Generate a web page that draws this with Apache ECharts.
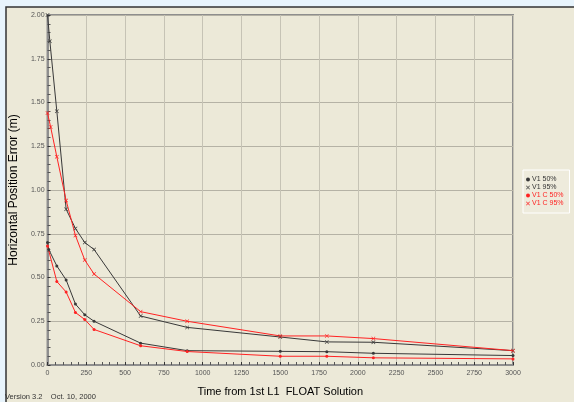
<!DOCTYPE html>
<html><head><meta charset="utf-8">
<script src="https://cdn.jsdelivr.net/npm/echarts@6/dist/echarts.min.js"></script>
<style>html,body{margin:0;padding:0;background:#e8f4fc;}#c{width:574px;height:402px;}</style>
</head><body><div id="c"></div>
<script>
// Time from 1st L1 FLOAT solution (s)
const times = [0, 60, 120, 180, 240, 300, 600, 900, 1500, 1800, 2100, 3000];
const timesV195 = [0, 15, 60, 120, 180, 240, 300, 600, 900, 1500, 1800, 2100, 3000];
const timesC95 = [0, 20, 60, 120, 180, 240, 300, 600, 900, 1500, 1800, 2100, 3000];
const timesV150 = [0, 8, 60, 120, 180, 240, 300, 600, 900, 1500, 1800, 2100, 3000];
// Horizontal position error (m)
const v1_50 = [0.70, 0.66, 0.566, 0.486, 0.348, 0.287, 0.25, 0.125, 0.082, 0.078, 0.076, 0.067, 0.054];
const v1_95 = [2.00, 1.85, 1.45, 0.89, 0.78, 0.70, 0.66, 0.28, 0.215, 0.16, 0.132, 0.13, 0.082];
const v1c_50 = [0.68, 0.477, 0.417, 0.30, 0.26, 0.203, 0.11, 0.077, 0.05, 0.05, 0.041, 0.035];
const v1c_95 = [1.44, 1.36, 1.19, 0.94, 0.74, 0.60, 0.52, 0.305, 0.25, 0.166, 0.166, 0.151, 0.082];
const seriesNames = ['V1 50%', 'V1 95%', 'V1 C 50%', 'V1 C 95%'];
const xTitle = 'Time from 1st L1  FLOAT Solution';
const yTitle = 'Horizontal Position Error (m)';
const footer = 'Version 3.2    Oct. 10, 2000';

const zip = (xs, ys) => xs.map((x, i) => [x, ys[i]]);
const xIcon = 'path://M0,1L1,0L5,4L9,0L10,1L6,5L10,9L9,10L5,6L1,10L0,9L4,5Z';
const BLACK = '#383838', RED = '#f22';
const font = 'Liberation Sans';

const chart = echarts.init(document.getElementById('c'), null, {renderer: 'canvas'});
chart.setOption({
  animation: false,
  backgroundColor: '#e8f4fc',
  graphic: [
    {type: 'rect', z: -10, shape: {x: 6, y: 7, width: 580, height: 400},
     style: {fill: '#ece9d8', stroke: '#333', lineWidth: 1.5}},
    {type: 'text', left: 5, top: 393, style: {text: footer, fontSize: 7.5, fill: '#333', fontFamily: font}}
  ],
  grid: {left: 45, right: 61, top: 15, bottom: 29, show: true, borderColor: '#8e8e8e', borderWidth: 2, backgroundColor: 'transparent'},
  legend: {
    orient: 'vertical', left: 523, top: 170, itemGap: 1, itemWidth: 4, itemHeight: 4,
    padding: [6, 6, 6, 3], borderColor: '#ffffff', borderWidth: 1, backgroundColor: '#eeebdc',
    textStyle: {fontSize: 7, fontFamily: font, padding: [0, 0, 0, -3]},
    data: [
      {name: seriesNames[0], icon: 'circle', textStyle: {color: '#333'}},
      {name: seriesNames[1], icon: xIcon, textStyle: {color: '#333'}},
      {name: seriesNames[2], icon: 'circle', textStyle: {color: RED}},
      {name: seriesNames[3], icon: xIcon, textStyle: {color: RED}}
    ]
  },
  xAxis: {
    type: 'value', min: 0, max: 3000, interval: 250,
    name: xTitle, nameLocation: 'middle', nameGap: 21,
    nameTextStyle: {fontSize: 11, color: '#000', fontFamily: font},
    axisLine: {show: true, lineStyle: {color: '#8e8e8e', width: 2}},
    axisTick: {show: true, inside: true, length: 3, lineStyle: {color: '#333'}},
    minorTick: {show: true, splitNumber: 5, length: 3, lineStyle: {color: '#555'}},
    axisLabel: {fontSize: 7, color: '#555', margin: 5, fontFamily: font, formatter: v => String(v)},
    splitLine: {show: true, lineStyle: {color: '#c6c3b5', width: 1}}
  },
  yAxis: {
    type: 'value', min: 0, max: 2, interval: 0.25,
    name: yTitle, nameLocation: 'middle', nameGap: 23,
    nameTextStyle: {fontSize: 12, color: '#000', fontFamily: font},
    axisLine: {show: true, lineStyle: {color: '#8e8e8e', width: 2}},
    axisTick: {show: true, inside: true, length: 3, lineStyle: {color: '#333'}},
    minorTick: {show: true, splitNumber: 5, length: 3, lineStyle: {color: '#555'}},
    axisLabel: {fontSize: 7, color: '#555', margin: 3, fontFamily: font, formatter: v => v.toFixed(2)},
    splitLine: {show: true, lineStyle: {color: '#b5b2a5', width: 1}}
  },
  series: [
    {name: seriesNames[0], type: 'line', data: zip(timesV150, v1_50), symbol: 'circle', symbolSize: 3,
     itemStyle: {color: BLACK}, lineStyle: {color: BLACK, width: 1}},
    {name: seriesNames[1], type: 'line', data: zip(timesV195, v1_95), symbol: xIcon, symbolSize: 4,
     itemStyle: {color: BLACK}, lineStyle: {color: BLACK, width: 1}},
    {name: seriesNames[2], type: 'line', data: zip(times, v1c_50), symbol: 'circle', symbolSize: 3,
     itemStyle: {color: RED}, lineStyle: {color: RED, width: 1}},
    {name: seriesNames[3], type: 'line', data: zip(timesC95, v1c_95), symbol: xIcon, symbolSize: 4,
     itemStyle: {color: RED}, lineStyle: {color: RED, width: 1}}
  ]
});
</script></body></html>
